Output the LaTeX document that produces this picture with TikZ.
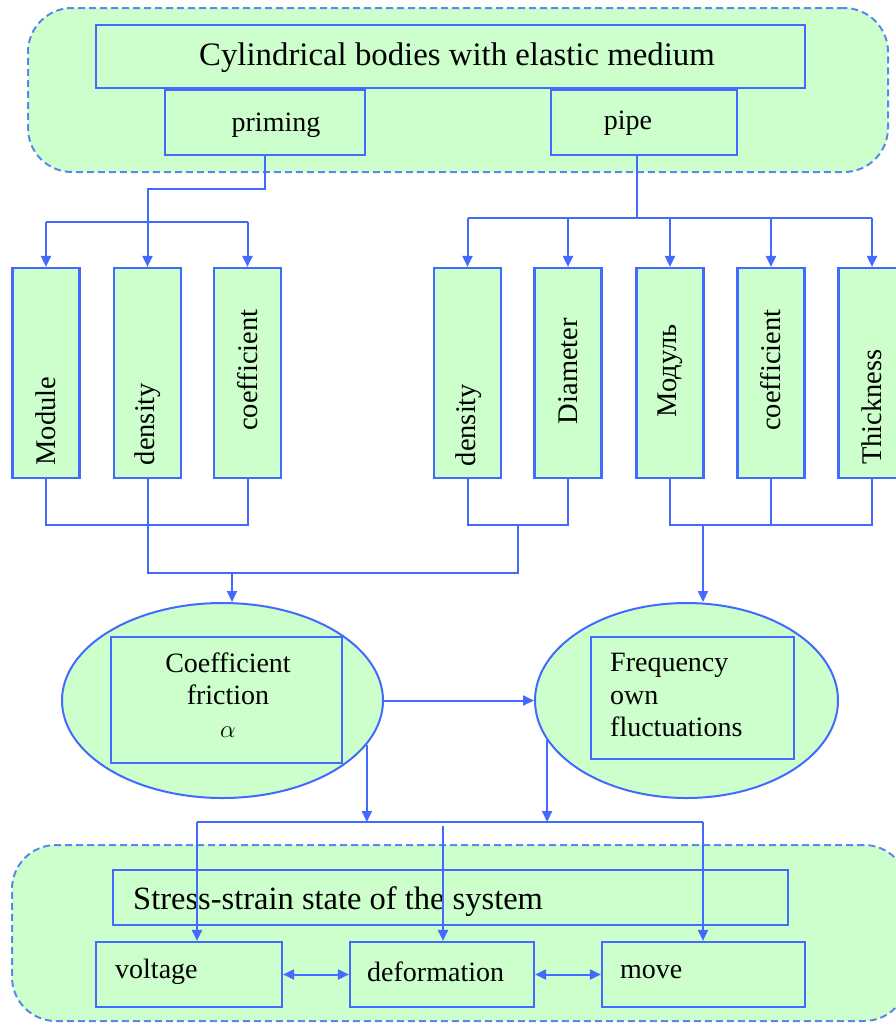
\documentclass[tikz,border=0pt]{standalone}
\usepackage{fontspec}
\setmainfont{Liberation Serif}
\usetikzlibrary{arrows.meta,shapes.geometric,calc}
\definecolor{bl}{RGB}{66,106,255}
\definecolor{gr}{RGB}{204,255,204}
\definecolor{dbl}{RGB}{95,135,235}
\begin{document}
\begin{tikzpicture}[x=1pt,y=-1pt,
 box/.style={draw=bl,fill=gr,line width=2.2pt,inner sep=0pt},
 region/.style={draw=dbl,fill=gr,line width=2pt,dash pattern=on 7pt off 4pt,rounded corners=44pt,inner sep=0pt},
 con/.style={draw=bl,line width=2pt},
 arr/.style={con,-{Triangle[length=11pt,width=10pt]}},
 dblarr/.style={con,{Triangle[length=11pt,width=10pt]}-{Triangle[length=11pt,width=10pt]}},
 vt/.style={rotate=90,font=\fontsize{28.5}{32}\selectfont,inner sep=0pt},
 lbl/.style={font=\fontsize{28}{32}\selectfont,inner sep=0pt},
 ell/.style={ellipse,draw=bl,fill=gr,line width=2pt,inner sep=0pt},
 vbox/.style={box,minimum width=67pt,minimum height=210pt},
]
\clip (0,0) rectangle (896,1023);
% regions
\node[region,minimum width=860pt,minimum height=164pt] (topreg) at (458,90) {};
\node[region,minimum width=896pt,minimum height=176pt] (botreg) at (460,933) {};
% top boxes
\node[box,minimum width=709pt,minimum height=63pt] (title) at (450.5,56.5) {};
\node[lbl,font=\fontsize{32.8}{36}\selectfont] (titlet) at (457,58) {Cylindrical bodies with elastic medium};
\node[box,minimum width=200pt,minimum height=65pt] (prim) at (265,122.5) {};
\node[lbl] (primt) at (276,125) {priming};
\node[box,minimum width=186pt,minimum height=65pt] (pipe) at (644,122.5) {};
\node[lbl] (pipet) at (628,123) {pipe};
% vertical boxes
\node[vbox] (mod1) at (46,373) {};
\node[vbox] (den1) at (147.5,373) {};
\node[vbox] (coef1) at (247.5,373) {};
\node[vbox] (den2) at (467.5,373) {};
\node[vbox] (diam) at (568,373) {};
\node[vbox] (mod2) at (670,373) {};
\node[vbox] (coef2) at (771,373) {};
\node[vbox] (thick) at (872,373) {};
\node[vt] (mod1t) at (46,421) {Module};
\node[vt] (den1t) at (148,424) {density};
\node[vt] (coef1t) at (248,370) {coefficient};
\node[vt] (den2t) at (469,425) {density};
\node[vt] (diamt) at (568,371) {Diameter};
\node[vt] (mod2t) at (670,371) {Модуль};
\node[vt] (coef2t) at (771,370) {coefficient};
\node[vt] (thickt) at (872,407) {Thickness};
% ellipses
\node[ell,minimum width=321pt,minimum height=195pt] (ell1) at (222.5,700.5) {};
\node[ell,minimum width=303pt,minimum height=195pt] (ell2) at (686.5,700.5) {};
\node[box,fill=none,minimum width=231pt,minimum height=126pt] (r1) at (226.5,700) {};
\node[box,fill=none,minimum width=203pt,minimum height=122pt] (r2) at (692.5,698) {};
\node[lbl,align=center,font=\fontsize{28}{32.5}\selectfont] (t1) at (228,695) {Coefficient\\friction\\$\alpha$};
\node[lbl,align=left,anchor=west,font=\fontsize{28}{32.5}\selectfont] (t2) at (610,695) {Frequency\\own\\fluctuations};
% bottom boxes
\node[box,minimum width=675pt,minimum height=55pt] (stress) at (450.5,897.5) {};
\node[lbl,anchor=west,font=\fontsize{32.5}{36}\selectfont] (stresst) at (133,902) {Stress-strain state of the system};
\node[box,minimum width=186pt,minimum height=65pt] (volt) at (189,974.5) {};
\node[box,minimum width=184pt,minimum height=65pt] (defo) at (442,974.5) {};
\node[box,minimum width=203pt,minimum height=65pt] (move) at (703.5,974.5) {};
\node[lbl,anchor=west] (voltt) at (115,972) {voltage};
\node[lbl,anchor=west] (defot) at (367,972) {deformation};
\node[lbl,anchor=west] (movet) at (620,972) {move};
% top connectors
\coordinate (brT) at (0,222);
\coordinate (brP) at (0,218);
\draw[arr] (prim.south) -- ++(0,33) -| (den1.north);
\draw[con] (mod1.north |- brT) -- (coef1.north |- brT);
\draw[arr] (mod1.north |- brT) -- (mod1.north);
\draw[arr] (coef1.north |- brT) -- (coef1.north);
\coordinate (pd) at ($(pipe.south)+(-7,0)$);
\draw[con] (pd) -- (pd |- brP);
\draw[con] (den2.north |- brP) -- (thick.north |- brP);
\foreach \n in {den2,diam,mod2,coef2,thick}{\draw[arr] (\n.north |- brP) -- (\n.north);}
% lower connectors of vertical boxes
\coordinate (brB) at (0,525);
\coordinate (bus) at (0,573);
\coordinate (j2) at (518,525);
\draw[con] (mod1.south) -- (mod1.south |- brB) -- (coef1.south |- brB) -- (coef1.south);
\draw[con] (den2.south) -- (den2.south |- brB) -- (diam.south |- brB) -- (diam.south);
\draw[con] (den1.south) |- (j2 |- bus) -- (j2);
\coordinate (a1) at (232,573);
\draw[arr] (a1) -- (a1 |- ell1.north);
\draw[con] (mod2.south) -- (mod2.south |- brB) -- (thick.south |- brB) -- (thick.south);
\draw[con] (coef2.south) -- (coef2.south |- brB);
\coordinate (a2) at (703,525);
\draw[arr] (a2) -- (a2 |- ell2.north);
% ellipse connectors
\draw[arr] (ell1.east) -- (ell2.west);
\coordinate (bus2) at (0,822);
\draw[arr] (ell1.-17) -- (ell1.-17 |- bus2);
\draw[arr] (ell2.196) -- (ell2.196 |- bus2);
\coordinate (b1) at (197,822);
\coordinate (b2) at (443,826);
\coordinate (b3) at (703,822);
\draw[con] (b1) -- (b3);
\draw[arr] (b1) -- (b1 |- volt.north);
\draw[arr] (b2) -- (b2 |- defo.north);
\draw[arr] (b3) -- (b3 |- move.north);
\draw[dblarr] (volt.east) -- (defo.west);
\draw[dblarr] (defo.east) -- (move.west);
\end{tikzpicture}
\end{document}
